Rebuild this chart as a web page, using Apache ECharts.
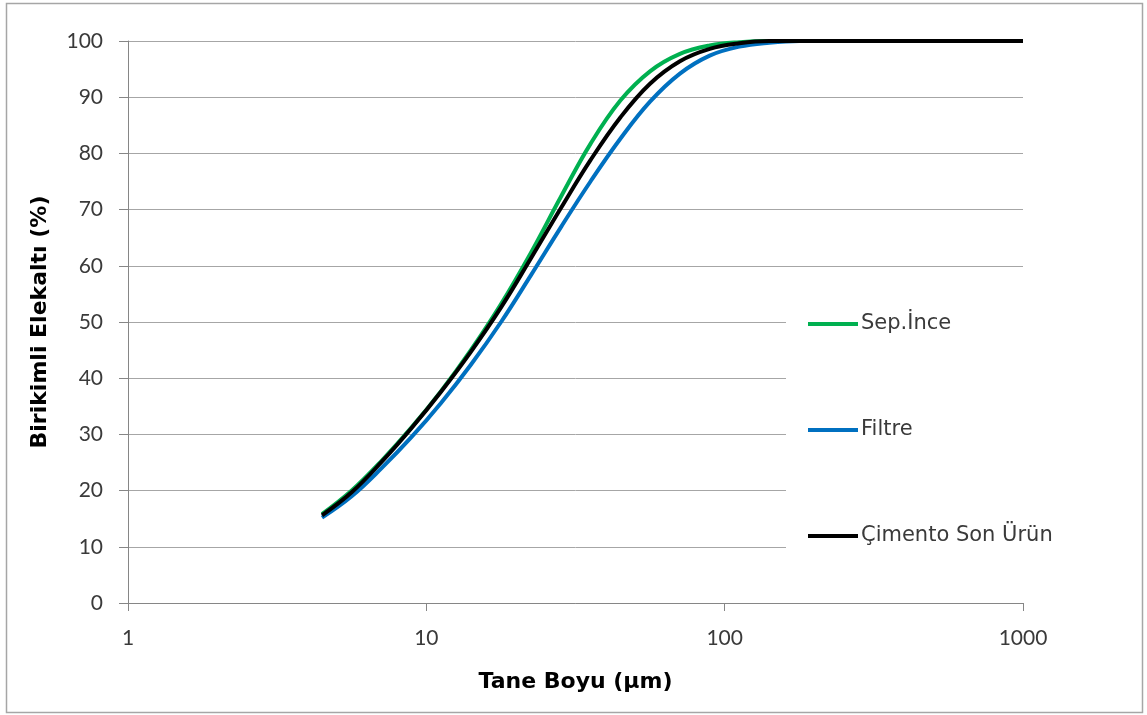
<!DOCTYPE html>
<html>
<head>
<meta charset="utf-8">
<script src="https://cdn.jsdelivr.net/npm/echarts@6/dist/echarts.min.js"></script>
<style>
  html, body { margin: 0; padding: 0; background: #fff; }
  #chart { width: 1147px; height: 715px; }
</style>
</head>
<body>
<div id="chart"></div>
<script>
// Particle size (µm), ten steps per decade, at which each cumulative passing value is given
const sizes = [4.47, 5.62, 7.08, 8.91, 11.2, 14.1, 17.8, 22.4, 28.2, 35.5, 44.7, 56.2, 70.8, 89.1, 112, 141, 178, 1000];

// Cumulative passing (%) per product
const sepInce = [15.8, 20.0, 25.3, 31.2, 37.7, 45.0, 53.2, 62.3, 72.2, 81.7, 89.4, 94.6, 97.7, 99.2, 99.8, 100, 100, 100];
const filtre  = [15.2, 19.0, 24.0, 29.5, 35.6, 42.4, 50.0, 58.3, 66.8, 75.0, 82.6, 89.2, 94.2, 97.4, 99.0, 99.7, 100, 100];
const cimento = [15.6, 19.7, 25.1, 31.1, 37.6, 44.7, 52.6, 61.3, 70.2, 78.8, 86.4, 92.4, 96.4, 98.6, 99.6, 100, 100, 100];

const seriesNames = ['Sep.İnce', 'Filtre', 'Çimento Son Ürün'];
const seriesColors = ['#00b050', '#0070c0', '#000000'];
const seriesValues = [sepInce, filtre, cimento];

const yTicks = [0, 10, 20, 30, 40, 50, 60, 70, 80, 90, 100];

const TICK_FONT = 'Lato, "Open Sans", sans-serif';
const TEXT_FONT = '"DejaVu Sans", Verdana, sans-serif';
const GRID_GRAY = '#a6a6a6';
const AXIS_GRAY = '#868686';
const LABEL_COLOR = '#3a3a3a';

const chart = echarts.init(document.getElementById('chart'));

chart.setOption({
  animation: false,
  backgroundColor: '#ffffff',
  textStyle: { fontFamily: TICK_FONT },
  grid: {
    left: 128, right: 124, top: 41, bottom: 112,
    containLabel: false,
    outerBoundsMode: 'none'
  },
  xAxis: {
    type: 'log',
    logBase: 10,
    min: 1,
    max: 1000,
    name: 'Tane Boyu (µm)',
    nameLocation: 'middle',
    nameGap: 68,
    nameTextStyle: { fontFamily: TEXT_FONT, fontSize: 22, fontWeight: 'bold', color: '#000' },
    axisLine: { show: true, lineStyle: { color: AXIS_GRAY, width: 1 } },
    axisTick: { show: true, length: 8, lineStyle: { color: AXIS_GRAY } },
    minorTick: { show: false },
    axisLabel: {
      fontSize: 21, color: LABEL_COLOR, margin: 25, fontFamily: TICK_FONT,
      formatter: v => String(Math.round(v))
    },
    splitLine: { show: false }
  },
  yAxis: {
    type: 'value',
    min: yTicks[0],
    max: yTicks[yTicks.length - 1],
    interval: 10,
    name: 'Birikimli Elekaltı (%)',
    nameLocation: 'middle',
    nameGap: 77,
    nameTextStyle: { fontFamily: TEXT_FONT, fontSize: 22, fontWeight: 'bold', color: '#000' },
    axisLine: { show: true, lineStyle: { color: AXIS_GRAY, width: 1 } },
    axisTick: { show: true, inside: false, length: 9, lineStyle: { color: AXIS_GRAY } },
    axisLabel: { fontSize: 21, color: LABEL_COLOR, margin: 25, fontFamily: TICK_FONT },
    splitLine: { show: true, lineStyle: { color: GRID_GRAY, width: 1 } }
  },
  legend: {
    orient: 'vertical',
    left: 786,
    top: 290,
    padding: [22, 90, 25, 22],
    backgroundColor: '#ffffff',
    itemGap: 82,
    itemWidth: 50,
    itemHeight: 4,
    icon: 'rect',
    textStyle: { fontFamily: TEXT_FONT, fontSize: 21, lineHeight: 22, color: LABEL_COLOR, padding: [2, 0, 0, -2] },
    data: seriesNames
  },
  graphic: [{
    type: 'rect',
    z: 100,
    silent: true,
    shape: { x: 6.5, y: 3.5, width: 1136, height: 709 },
    style: { fill: 'none', stroke: '#a6a6a6', lineWidth: 1.5 }
  }],
  series: seriesNames.map((name, i) => ({
    name,
    type: 'line',
    data: sizes.map((s, j) => [s, seriesValues[i][j]]),
    smooth: 0.4,
    showSymbol: false,
    symbol: 'none',
    z: 2 + i,
    lineStyle: { color: seriesColors[i], width: 4 },
    itemStyle: { color: seriesColors[i] }
  }))
});
</script>
</body>
</html>
